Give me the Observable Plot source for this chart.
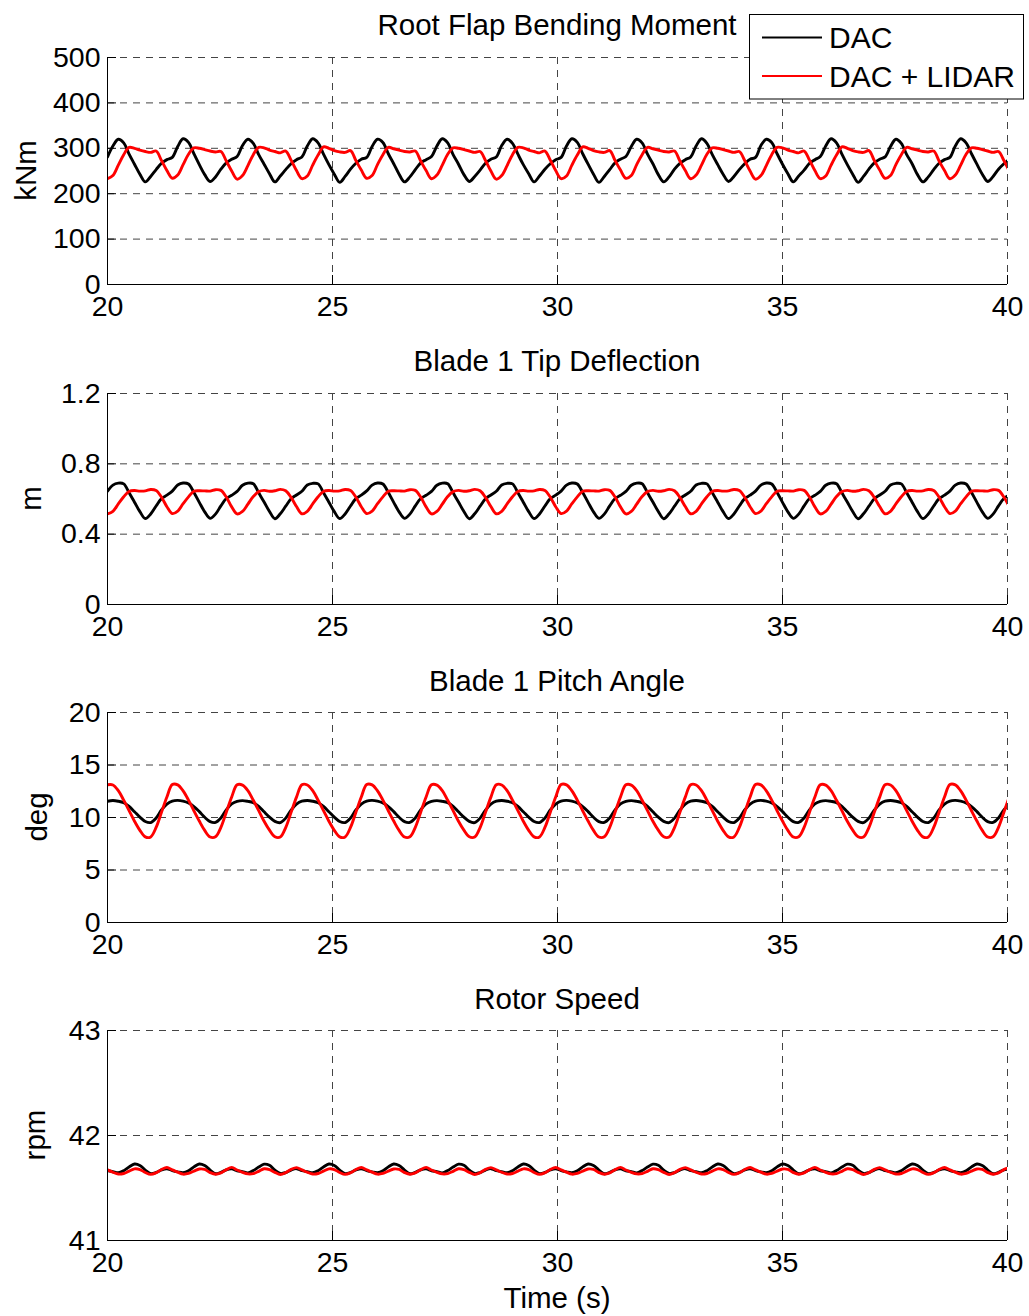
<!DOCTYPE html>
<html><head><meta charset="utf-8">
<script src="https://cdn.jsdelivr.net/npm/d3@7"></script>
<script src="https://cdn.jsdelivr.net/npm/@observablehq/plot@0.6"></script>
<style>
html,body{margin:0;padding:0;background:#fff;}
#root{position:relative;width:1029px;height:1316px;overflow:hidden;font-family:"Liberation Sans",Arial,sans-serif;background:#fff;}
#root svg{position:absolute;left:0;}
</style></head><body><div id="root"></div>
<script>
// ---- data ----
const time = [
20.00,20.12,20.24,20.36,20.48,20.60,20.72,20.84,20.96,21.08,21.20,21.32,
21.44,21.56,21.68,21.80,21.92,22.04,22.16,22.28,22.40,22.52,22.64,22.76,
22.88,23.00,23.12,23.24,23.36,23.48,23.60,23.72,23.84,23.96,24.08,24.20,
24.32,24.44,24.56,24.68,24.80,24.92,25.04,25.16,25.28,25.40,25.52,25.64,
25.76,25.88,26.00,26.12,26.24,26.36,26.48,26.60,26.72,26.84,26.96,27.08,
27.20,27.32,27.44,27.56,27.68,27.80,27.92,28.04,28.16,28.28,28.40,28.52,
28.64,28.76,28.88,29.00,29.12,29.24,29.36,29.48,29.60,29.72,29.84,29.96,
30.08,30.20,30.32,30.44,30.56,30.68,30.80,30.92,31.04,31.16,31.28,31.40,
31.52,31.64,31.76,31.88,32.00,32.12,32.24,32.36,32.48,32.60,32.72,32.84,
32.96,33.08,33.20,33.32,33.44,33.56,33.68,33.80,33.92,34.04,34.16,34.28,
34.40,34.52,34.64,34.76,34.88,35.00,35.12,35.24,35.36,35.48,35.60,35.72,
35.84,35.96,36.08,36.20,36.32,36.44,36.56,36.68,36.80,36.92,37.04,37.16,
37.28,37.40,37.52,37.64,37.76,37.88,38.00,38.12,38.24,38.36,38.48,38.60,
38.72,38.84,38.96,39.08,39.20,39.32,39.44,39.56,39.68,39.80,39.92,40.04];

const flapDAC = [
281,305,320,312,287,265,243,226,238,253,267,275,
280,304,321,313,288,264,242,227,237,254,268,276,
282,306,320,311,286,265,244,226,239,253,266,275,
281,305,321,312,287,264,243,225,238,254,267,276,
280,304,320,313,288,266,243,226,237,253,268,275,
282,305,321,312,286,265,242,227,238,252,267,276,
281,306,320,311,287,264,244,226,239,254,266,275,
280,305,321,313,288,265,243,225,238,253,268,276,
282,304,320,312,287,266,242,226,237,254,267,275,
281,305,321,311,286,264,243,227,238,253,266,276,
280,306,320,313,288,265,244,226,239,252,267,275,
282,305,321,312,287,264,243,225,238,254,268,276,
281,304,320,311,286,266,242,226,237,253,267,275,
280,305,321,312,288,265,243,227,238,254,266,276];
const flapLIDAR = [
233,240,263,286,302,300,296,293,291,294,273,251,
234,241,264,287,301,300,297,294,292,293,272,250,
232,240,262,286,302,301,296,293,290,294,274,251,
233,239,263,285,303,300,295,292,291,295,273,252,
234,240,264,286,302,299,296,293,292,294,272,251,
233,241,263,287,301,300,297,294,291,293,273,250,
232,240,262,286,302,301,296,293,290,294,274,251,
233,239,263,285,303,300,295,292,291,295,273,252,
234,240,264,286,302,299,296,293,292,294,272,251,
233,241,263,287,301,300,297,294,291,293,273,250,
232,240,262,286,302,301,296,293,290,294,274,251,
233,239,263,285,303,300,295,292,291,295,273,252,
234,240,264,286,302,299,296,293,292,294,272,251,
233,241,263,287,301,300,297,294,291,293,273,250];

const tipDAC = [
0.644,0.679,0.690,0.686,0.636,0.582,0.528,0.489,0.515,0.560,0.602,0.622,
0.645,0.680,0.691,0.685,0.637,0.581,0.527,0.490,0.514,0.561,0.603,0.621,
0.643,0.678,0.690,0.687,0.635,0.583,0.529,0.488,0.516,0.559,0.601,0.623,
0.644,0.680,0.689,0.686,0.636,0.582,0.528,0.489,0.515,0.560,0.602,0.622,
0.646,0.679,0.691,0.685,0.637,0.581,0.527,0.490,0.514,0.561,0.603,0.621,
0.643,0.678,0.690,0.687,0.635,0.583,0.529,0.488,0.516,0.559,0.601,0.623,
0.644,0.680,0.689,0.686,0.636,0.582,0.528,0.489,0.515,0.560,0.602,0.622,
0.645,0.679,0.691,0.685,0.637,0.581,0.527,0.490,0.514,0.561,0.603,0.621,
0.643,0.678,0.690,0.687,0.635,0.583,0.529,0.488,0.516,0.559,0.601,0.623,
0.644,0.680,0.689,0.686,0.636,0.582,0.528,0.489,0.515,0.560,0.602,0.622,
0.645,0.679,0.691,0.685,0.637,0.581,0.527,0.490,0.514,0.561,0.603,0.621,
0.643,0.678,0.690,0.687,0.635,0.583,0.529,0.488,0.516,0.559,0.601,0.623,
0.644,0.680,0.689,0.686,0.636,0.582,0.528,0.489,0.515,0.560,0.602,0.622,
0.645,0.679,0.691,0.685,0.637,0.581,0.527,0.490,0.514,0.561,0.603,0.621];
const tipLIDAR = [
0.516,0.530,0.572,0.613,0.643,0.648,0.645,0.646,0.654,0.648,0.610,0.556,
0.517,0.531,0.573,0.612,0.644,0.647,0.646,0.645,0.653,0.649,0.611,0.555,
0.515,0.529,0.571,0.614,0.642,0.649,0.644,0.647,0.655,0.647,0.609,0.557,
0.516,0.530,0.572,0.613,0.643,0.648,0.645,0.646,0.654,0.648,0.610,0.556,
0.517,0.531,0.573,0.612,0.644,0.647,0.646,0.645,0.653,0.649,0.611,0.555,
0.515,0.529,0.571,0.614,0.642,0.649,0.644,0.647,0.655,0.647,0.609,0.557,
0.516,0.530,0.572,0.613,0.643,0.648,0.645,0.646,0.654,0.648,0.610,0.556,
0.517,0.531,0.573,0.612,0.644,0.647,0.646,0.645,0.653,0.649,0.611,0.555,
0.515,0.529,0.571,0.614,0.642,0.649,0.644,0.647,0.655,0.647,0.609,0.557,
0.516,0.530,0.572,0.613,0.643,0.648,0.645,0.646,0.654,0.648,0.610,0.556,
0.517,0.531,0.573,0.612,0.644,0.647,0.646,0.645,0.653,0.649,0.611,0.555,
0.515,0.529,0.571,0.614,0.642,0.649,0.644,0.647,0.655,0.647,0.609,0.557,
0.516,0.530,0.572,0.613,0.643,0.648,0.645,0.646,0.654,0.648,0.610,0.556,
0.517,0.531,0.573,0.612,0.644,0.647,0.646,0.645,0.653,0.649,0.611,0.555];

const pitchDAC = [
11.55,11.62,11.55,11.40,11.05,10.55,10.03,9.62,9.52,9.95,10.72,11.28,
11.57,11.63,11.56,11.39,11.04,10.56,10.02,9.61,9.53,9.96,10.73,11.29,
11.54,11.61,11.54,11.41,11.06,10.54,10.04,9.63,9.51,9.94,10.71,11.27,
11.55,11.62,11.55,11.40,11.05,10.55,10.03,9.62,9.52,9.95,10.72,11.28,
11.57,11.63,11.56,11.39,11.04,10.56,10.02,9.61,9.53,9.96,10.73,11.29,
11.54,11.61,11.54,11.41,11.06,10.54,10.04,9.63,9.51,9.94,10.71,11.27,
11.55,11.62,11.55,11.40,11.05,10.55,10.03,9.62,9.52,9.95,10.72,11.28,
11.57,11.63,11.56,11.39,11.04,10.56,10.02,9.61,9.53,9.96,10.73,11.29,
11.54,11.61,11.54,11.41,11.06,10.54,10.04,9.63,9.51,9.94,10.71,11.27,
11.55,11.62,11.55,11.40,11.05,10.55,10.03,9.62,9.52,9.95,10.72,11.28,
11.57,11.63,11.56,11.39,11.04,10.56,10.02,9.61,9.53,9.96,10.73,11.29,
11.54,11.61,11.54,11.41,11.06,10.54,10.04,9.63,9.51,9.94,10.71,11.27,
11.55,11.62,11.55,11.40,11.05,10.55,10.03,9.62,9.52,9.95,10.72,11.28,
11.57,11.63,11.56,11.39,11.04,10.56,10.02,9.61,9.53,9.96,10.73,11.29];
const pitchLIDAR = [
13.12,13.10,12.55,11.65,10.65,9.65,8.78,8.15,8.15,9.05,10.50,11.95,
13.14,13.11,12.54,11.66,10.64,9.66,8.77,8.14,8.16,9.06,10.51,11.96,
13.11,13.09,12.56,11.64,10.66,9.64,8.79,8.16,8.14,9.04,10.49,11.94,
13.12,13.10,12.55,11.65,10.65,9.65,8.78,8.15,8.15,9.05,10.50,11.95,
13.14,13.11,12.54,11.66,10.64,9.66,8.77,8.14,8.16,9.06,10.51,11.96,
13.11,13.09,12.56,11.64,10.66,9.64,8.79,8.16,8.14,9.04,10.49,11.94,
13.12,13.10,12.55,11.65,10.65,9.65,8.78,8.15,8.15,9.05,10.50,11.95,
13.14,13.11,12.54,11.66,10.64,9.66,8.77,8.14,8.16,9.06,10.51,11.96,
13.11,13.09,12.56,11.64,10.66,9.64,8.79,8.16,8.14,9.04,10.49,11.94,
13.12,13.10,12.55,11.65,10.65,9.65,8.78,8.15,8.15,9.05,10.50,11.95,
13.14,13.11,12.54,11.66,10.64,9.66,8.77,8.14,8.16,9.06,10.51,11.96,
13.11,13.09,12.56,11.64,10.66,9.64,8.79,8.16,8.14,9.04,10.49,11.94,
13.12,13.10,12.55,11.65,10.65,9.65,8.78,8.15,8.15,9.05,10.50,11.95,
13.14,13.11,12.54,11.66,10.64,9.66,8.77,8.14,8.16,9.06,10.51,11.96];

const rotorDAC = [
41.665,41.655,41.645,41.665,41.700,41.728,41.715,41.670,41.637,41.648,41.672,41.683,
41.666,41.654,41.646,41.664,41.701,41.729,41.714,41.671,41.636,41.649,41.673,41.682,
41.664,41.656,41.644,41.666,41.699,41.727,41.716,41.669,41.638,41.647,41.671,41.684,
41.665,41.655,41.645,41.665,41.700,41.728,41.715,41.670,41.637,41.648,41.672,41.683,
41.666,41.654,41.646,41.664,41.701,41.729,41.714,41.671,41.636,41.649,41.673,41.682,
41.664,41.656,41.644,41.666,41.699,41.727,41.716,41.669,41.638,41.647,41.671,41.684,
41.665,41.655,41.645,41.665,41.700,41.728,41.715,41.670,41.637,41.648,41.672,41.683,
41.666,41.654,41.646,41.664,41.701,41.729,41.714,41.671,41.636,41.649,41.673,41.682,
41.664,41.656,41.644,41.666,41.699,41.727,41.716,41.669,41.638,41.647,41.671,41.684,
41.665,41.655,41.645,41.665,41.700,41.728,41.715,41.670,41.637,41.648,41.672,41.683,
41.666,41.654,41.646,41.664,41.701,41.729,41.714,41.671,41.636,41.649,41.673,41.682,
41.664,41.656,41.644,41.666,41.699,41.727,41.716,41.669,41.638,41.647,41.671,41.684,
41.665,41.655,41.645,41.665,41.700,41.728,41.715,41.670,41.637,41.648,41.672,41.683,
41.666,41.654,41.646,41.664,41.701,41.729,41.714,41.671,41.636,41.649,41.673,41.682];
const rotorLIDAR = [
41.672,41.650,41.633,41.638,41.660,41.682,41.676,41.648,41.630,41.645,41.676,41.695,
41.673,41.651,41.632,41.639,41.661,41.681,41.677,41.647,41.631,41.644,41.675,41.696,
41.671,41.649,41.634,41.637,41.659,41.683,41.675,41.649,41.629,41.646,41.677,41.694,
41.672,41.650,41.633,41.638,41.660,41.682,41.676,41.648,41.630,41.645,41.676,41.695,
41.673,41.651,41.632,41.639,41.661,41.681,41.677,41.647,41.631,41.644,41.675,41.696,
41.671,41.649,41.634,41.637,41.659,41.683,41.675,41.649,41.629,41.646,41.677,41.694,
41.672,41.650,41.633,41.638,41.660,41.682,41.676,41.648,41.630,41.645,41.676,41.695,
41.673,41.651,41.632,41.639,41.661,41.681,41.677,41.647,41.631,41.644,41.675,41.696,
41.671,41.649,41.634,41.637,41.659,41.683,41.675,41.649,41.629,41.646,41.677,41.694,
41.672,41.650,41.633,41.638,41.660,41.682,41.676,41.648,41.630,41.645,41.676,41.695,
41.673,41.651,41.632,41.639,41.661,41.681,41.677,41.647,41.631,41.644,41.675,41.696,
41.671,41.649,41.634,41.637,41.659,41.683,41.675,41.649,41.629,41.646,41.677,41.694,
41.672,41.650,41.633,41.638,41.660,41.682,41.676,41.648,41.630,41.645,41.676,41.695,
41.673,41.651,41.632,41.639,41.661,41.681,41.677,41.647,41.631,41.644,41.675,41.696];

const xTicks = [20, 25, 30, 35, 40];
const titles = ["Root Flap Bending Moment", "Blade 1 Tip Deflection", "Blade 1 Pitch Angle", "Rotor Speed"];
const yLabels = ["kNm", "m", "deg", "rpm"];
const yDomains = [[0, 500], [0, 1.2], [0, 20], [41, 43]];
const yTicks = [[0, 100, 200, 300, 400, 500], [0, 0.4, 0.8, 1.2], [0, 5, 10, 15, 20], [41, 42, 43]];
const seriesDAC = [flapDAC, tipDAC, pitchDAC, rotorDAC];
const seriesLIDAR = [flapLIDAR, tipLIDAR, pitchLIDAR, rotorLIDAR];
const legendLabels = ["DAC", "DAC + LIDAR"];
const xLabel = "Time (s)";

// ---- layout ----
const W = 1029, ML = 107, MR = 22;
const frames = [{top: 57, bottom: 284}, {top: 393, bottom: 604}, {top: 712, bottom: 922}, {top: 1030, bottom: 1240}];
const yLabelX = [36, 41, 47, 45];
const FONT = "'Liberation Sans', Arial, Helvetica, sans-serif";
const root = document.getElementById("root");
const gridStyle = {stroke: "#444", strokeOpacity: 1, strokeWidth: 1, strokeDasharray: "7,6"};
const fmt = d => String(d);

frames.forEach((f, i) => {
  const h = f.bottom - f.top, mt = 12, mb = 52;
  const dom = yDomains[i];
  const data = time.map((t, k) => ({t, dac: seriesDAC[i][k], lidar: seriesLIDAR[i][k]}));
  const tickLenY = (dom[1] - dom[0]) * 9 / h;
  const tickLenX = 20 * 9 / (W - ML - MR);
  const svg = Plot.plot({
    width: W, height: h + mt + mb,
    marginTop: mt, marginBottom: mb, marginLeft: ML, marginRight: MR,
    x: {domain: [20, 40], label: null},
    y: {domain: dom, label: null},
    style: {fontFamily: FONT, color: "black", background: "transparent", overflow: "visible"},
    marks: [
      Plot.gridX(xTicks, gridStyle),
      Plot.gridY(yTicks[i], gridStyle),
      Plot.line(data, {x: "t", y: "dac", stroke: "black", strokeWidth: 2.9, curve: "catmull-rom", clip: true}),
      Plot.line(data, {x: "t", y: "lidar", stroke: "#ff0000", strokeWidth: 2.9, curve: "catmull-rom", clip: true}),
      Plot.ruleX(xTicks, {y1: dom[0], y2: dom[0] + tickLenY, stroke: "black", strokeWidth: 1}),
      Plot.ruleY(yTicks[i], {x1: 20, x2: 20 + tickLenX, stroke: "black", strokeWidth: 1}),
      Plot.ruleX([20], {stroke: "black", strokeWidth: 1}),
      Plot.ruleY([dom[0]], {stroke: "black", strokeWidth: 1}),
      Plot.axisX(xTicks, {tickSize: 0, tickPadding: 11, fontSize: 28.5, label: null, tickFormat: fmt}),
      Plot.axisY(yTicks[i], {tickSize: 0, tickPadding: 7, fontSize: 28.5, label: null, tickFormat: fmt})
    ]
  });
  svg.style.top = (f.top - mt) + "px";
  root.appendChild(svg);
});

// ---- overlay text: titles, y labels, x label, legend ----
const ov = d3.select(root).append("svg")
  .attr("width", W).attr("height", 1316)
  .style("top", "0px").style("font-family", FONT);
const FS = 29.5;
const titleCY = [24, 360, 680, 998];
titles.forEach((t, i) => {
  ov.append("text").attr("x", (ML + W - MR) / 2).attr("y", titleCY[i] + 0.36 * FS)
    .attr("text-anchor", "middle").attr("font-size", FS).attr("fill", "black").text(t);
});
yLabels.forEach((t, i) => {
  const cy = (frames[i].top + frames[i].bottom) / 2;
  ov.append("text").attr("transform", `translate(${yLabelX[i]},${cy}) rotate(-90)`)
    .attr("text-anchor", "middle").attr("font-size", FS).attr("fill", "black").text(t);
});
ov.append("text").attr("x", (ML + W - MR) / 2).attr("y", 1297 + 0.36 * FS)
  .attr("text-anchor", "middle").attr("font-size", FS).attr("fill", "black").text(xLabel);

const lg = ov.append("g");
lg.append("rect").attr("x", 749.5).attr("y", 14.5).attr("width", 274).attr("height", 84.5)
  .attr("fill", "white").attr("stroke", "black").attr("stroke-width", 1);
const legColors = ["black", "#ff0000"];
const legY = [37.5, 76];
legendLabels.forEach((t, i) => {
  lg.append("line").attr("x1", 762).attr("x2", 822).attr("y1", legY[i]).attr("y2", legY[i])
    .attr("stroke", legColors[i]).attr("stroke-width", 2.2);
  lg.append("text").attr("x", 829).attr("y", legY[i] + 0.36 * 30).attr("font-size", 30)
    .attr("fill", "black").text(t);
});
</script></body></html>
